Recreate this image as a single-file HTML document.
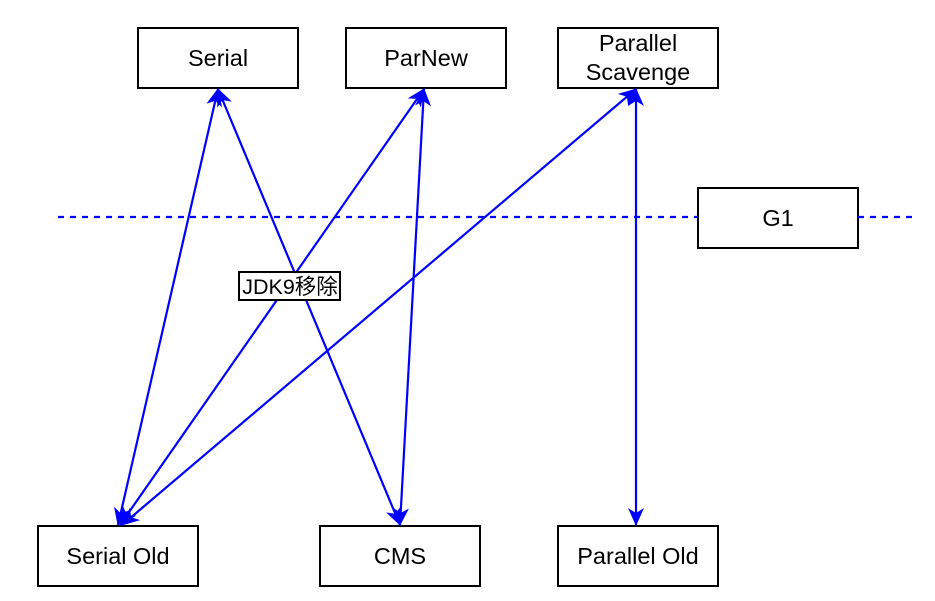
<!DOCTYPE html>
<html><head><meta charset="utf-8"><style>
html,body{margin:0;padding:0;background:#fff;}
svg{display:block;}
</style></head><body>
<svg width="935" height="601" viewBox="0 0 935 601" xmlns="http://www.w3.org/2000/svg" font-family="Liberation Sans, Noto Sans CJK SC, sans-serif" font-size="23.5">
<defs>
<marker id="a" viewBox="0 0 18 18" refX="17" refY="9" markerWidth="18" markerHeight="18" markerUnits="userSpaceOnUse" orient="auto-start-reverse">
<path d="M0,1 L18,9 L0,17 L5,9 Z" fill="#0000ff"/>
</marker>
</defs>
<g fill="#fff" stroke="#000" stroke-width="2">
<rect x="138" y="28" width="160" height="60"/>
<rect x="346" y="28" width="160" height="60"/>
<rect x="558" y="28" width="160" height="60"/>
<rect x="698" y="188" width="160" height="60"/>
<rect x="38" y="526" width="160" height="60"/>
<rect x="320" y="526" width="160" height="60"/>
<rect x="558" y="526" width="160" height="60"/>
</g>
<g stroke="#0000ff" stroke-width="2.2" fill="none">
<line x1="58" y1="217" x2="698" y2="217" stroke-dasharray="6,6"/>
<line x1="858" y1="217" x2="912" y2="217" stroke-dasharray="6,6"/>
<line x1="218" y1="89" x2="118" y2="525" marker-start="url(#a)" marker-end="url(#a)"/>
<line x1="218" y1="89" x2="400" y2="525" marker-start="url(#a)" marker-end="url(#a)"/>
<line x1="424" y1="89" x2="120" y2="525" marker-start="url(#a)" marker-end="url(#a)"/>
<line x1="424" y1="89" x2="400" y2="525" marker-start="url(#a)" marker-end="url(#a)"/>
<line x1="636" y1="89" x2="122" y2="525" marker-start="url(#a)" marker-end="url(#a)"/>
<line x1="636" y1="89" x2="636" y2="525" marker-start="url(#a)" marker-end="url(#a)"/>
</g>
<rect x="239" y="272" width="101" height="28" fill="#fff" stroke="#000" stroke-width="2"/>
<text x="290" y="294" text-anchor="middle" font-size="21.5">JDK9移除</text>
<g text-anchor="middle">
<text x="218" y="66">Serial</text>
<text x="426" y="66">ParNew</text>
<text x="638" y="51">Parallel</text>
<text x="638" y="80">Scavenge</text>
<text x="778" y="226">G1</text>
<text x="118" y="564">Serial Old</text>
<text x="400" y="564">CMS</text>
<text x="638" y="564">Parallel Old</text>
</g>
</svg>
</body></html>
